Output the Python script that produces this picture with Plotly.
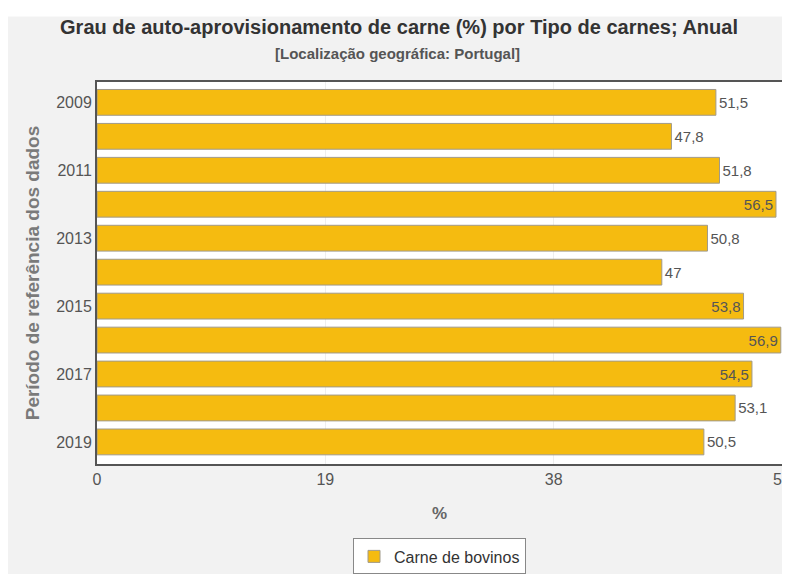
import plotly.graph_objects as go

# data
years = [2009, 2010, 2011, 2012, 2013, 2014, 2015, 2016, 2017, 2018, 2019]
bovinos = [51.5, 47.8, 51.8, 56.5, 50.8, 47, 53.8, 56.9, 54.5, 53.1, 50.5]
label_pos = ["outside", "outside", "outside", "inside", "outside", "outside",
             "inside", "inside", "inside", "outside", "outside"]
x_ticks = [0, 19, 38, 57]
y_ticks = [2009, 2011, 2013, 2015, 2017, 2019]

fig = go.Figure()
fig.add_trace(go.Bar(
    x=bovinos, y=years, orientation="h",
    name="Carne de bovinos",
    marker=dict(color="#f5bb10", line=dict(color="#a09a8a", width=1)),
    width=0.76,
    text=[str(v).replace(".", ",") for v in bovinos],
    textposition=label_pos,
    insidetextanchor="end",
    textfont=dict(color="#555555", size=15),
    outsidetextfont=dict(color="#555555", size=15),
    insidetextfont=dict(color="#555555", size=15),
    cliponaxis=False,
))

fig.update_layout(
    width=790, height=574,
    font=dict(family="Liberation Sans, Arial, sans-serif", color="#555555"),
    paper_bgcolor="#f2f2f2",
    plot_bgcolor="#ffffff",
    margin=dict(l=89, r=7, t=74, b=113),
    title=dict(
        text="<b>Grau de auto-aprovisionamento de carne (%) por Tipo de carnes; Anual</b>",
        x=391 / 790, xanchor="center", xref="container",
        y=1 - 19 / 574, yanchor="middle", yref="container",
        font=dict(size=20, color="#333333"),
    ),
    annotations=[dict(
        text="<b>[Localização geográfica: Portugal]</b>",
        xref="paper", yref="paper", x=(398 - 97) / 687, y=1 + 29 / 385,
        xanchor="center", yanchor="middle", showarrow=False,
        font=dict(size=15, color="#555555"),
    )],
    showlegend=True,
    legend=dict(
        orientation="h", x=0.5, xanchor="center", y=-0.195, yanchor="top",
        bgcolor="#ffffff", bordercolor="#888888", borderwidth=1,
        font=dict(size=16, color="#333333"),
    ),
    xaxis=dict(
        range=[0, 57], tickvals=x_ticks, showgrid=True, gridcolor="#eeeeee",
        zeroline=False, showline=True, mirror=True, linecolor="#555555", linewidth=2,
        tickfont=dict(size=16, color="#555555"),
        title=dict(text="<b>%</b>", font=dict(size=17, color="#666666"), standoff=20),
    ),
    yaxis=dict(
        range=[2019.65, 2008.4], tickvals=y_ticks, showgrid=False, zeroline=False,
        showline=True, mirror=True, linecolor="#555555", linewidth=2,
        tickfont=dict(size=16, color="#555555"), ticks="",
        title=dict(text="<b>Período de referência dos dados</b>",
                   font=dict(size=19, color="#7a7a7a"), standoff=12),
    ),
    shapes=[
        dict(type="rect", xref="paper", yref="paper", x0=-0.2, x1=1.1,
             y0=1.0 + 66 / 385, y1=1.3, fillcolor="#ffffff", line=dict(width=0), layer="below"),
    ],
)

fig.write_html("out.html")
